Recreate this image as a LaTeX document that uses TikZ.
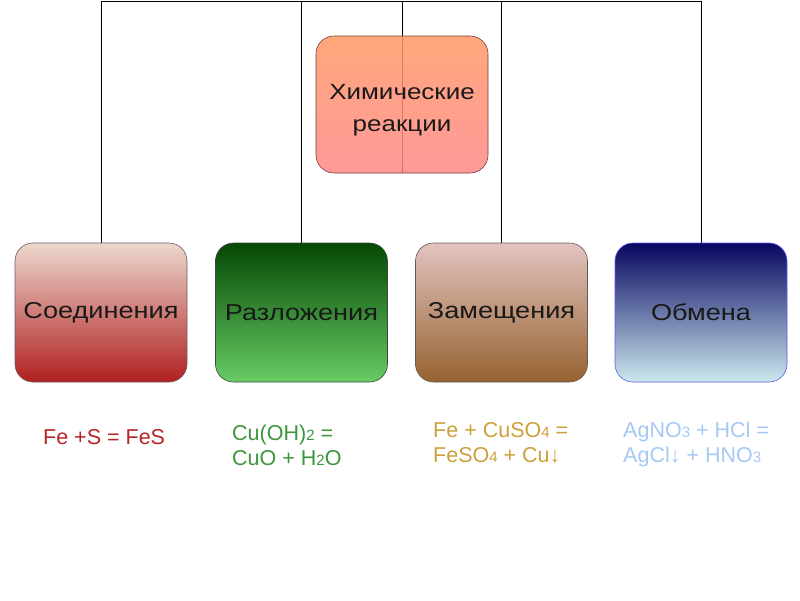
\documentclass[tikz,border=0pt]{standalone}
\usepackage{fontspec}
\setmainfont{Liberation Sans}
\newfontfamily\boxfont[FakeStretch=1.18]{Liberation Sans}
\usetikzlibrary{backgrounds}
\newcommand\chsub[1]{{\fontsize{15pt}{15pt}\selectfont #1}}
\definecolor{redtxt}{RGB}{185,35,40}
\definecolor{greentxt}{RGB}{60,150,60}
\definecolor{goldtxt}{RGB}{205,160,60}
\definecolor{bluetxt}{RGB}{165,200,245}
\tikzset{
  box/.style={rounded corners=18pt, minimum width=172pt, minimum height=139pt,
    inner sep=0pt, line width=.6pt, font=\boxfont\fontsize{23pt}{28pt}\selectfont, text=black!90},
  formula/.style={anchor=base west, align=left, inner sep=0pt,
    font=\fontsize{21.5pt}{25pt}\selectfont}
}
\begin{document}
\begin{tikzpicture}[x=1pt, y=-1pt, line join = round, line cap = round]
\useasboundingbox (0,0) rectangle (800,600);
%Khung chính
\node[box, minimum height=137pt, top color={rgb,255:red,255;green,152;blue,100},
  bottom color={rgb,255:red,255;green,135;blue,135}, fill opacity=.85, text opacity=1,
  draw={rgb,255:red,120;green,60;blue,50}, align=center,
  font=\boxfont\fontsize{22pt}{32pt}\selectfont] (main) at (402,104.5) {\rule{0pt}{26pt}Химические\\реакции};
%Bốn loại phản ứng
\node[box, top color={rgb,255:red,236;green,216;blue,206}, bottom color={rgb,255:red,176;green,32;blue,32},
  draw={rgb,255:red,110;green,90;blue,90}] (b1) at (101,312.5) {Соединения};
\node[box, top color={rgb,255:red,4;green,72;blue,4}, bottom color={rgb,255:red,104;green,204;blue,100},
  draw={rgb,255:red,60;green,70;blue,60}] (b2) at (301.5,312.5) {Разложения};
\node[box, top color={rgb,255:red,226;green,196;blue,192}, bottom color={rgb,255:red,150;green,98;blue,48},
  draw={rgb,255:red,100;green,90;blue,85}] (b3) at (501.5,312.5) {Замещения};
\node[box, top color={rgb,255:red,6;green,6;blue,96}, bottom color={rgb,255:red,204;green,232;blue,238},
  draw={rgb,255:red,90;green,90;blue,235}] (b4) at (701,312.5) {Обмена};
%Đường nối
\coordinate (top) at (402,1);
\begin{scope}[on background layer, line width=2.2pt]
\draw (b1.north) |- (b4.north |- top) -- (b4.north);
\draw (b2.north) -- (b2.north |- top);
\draw (b3.north) -- (b3.north |- top);
\draw (main.south) -- (main.south |- top);
\end{scope}
%Phương trình
\node[formula, text=redtxt] (f1) at (43,444) {Fe +S = FeS};
\node[formula, text=greentxt] (f2) at (232,465) {Cu(OH)\chsub{2} =\\CuO + H\chsub{2}O};
\node[formula, text=goldtxt] (f3) at (433,462) {Fe + CuSO\chsub{4} =\\FeSO\chsub{4} + Cu↓};
\node[formula, text=bluetxt] (f4) at (623,462) {AgNO\chsub{3} + HCl =\\AgCl↓ + HNO\chsub{3}};
\end{tikzpicture}
\end{document}
